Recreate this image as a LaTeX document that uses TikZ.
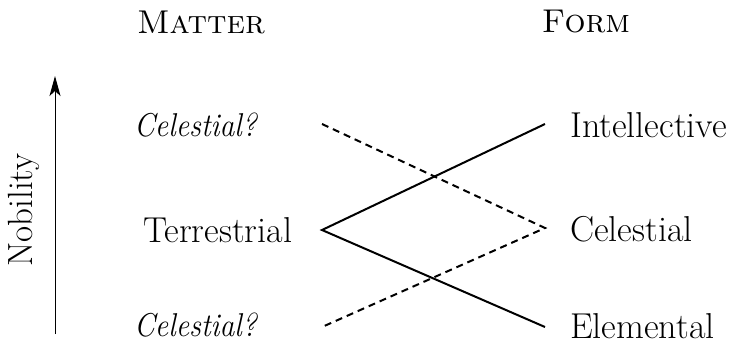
\documentclass[tikz,border=0pt]{standalone}
\usepackage{fontspec}
\usetikzlibrary{arrows.meta}
\begin{document}
\begin{tikzpicture}[x=1pt,y=-1pt,
  lbl/.style={anchor=west,inner sep=0pt,font=\fontsize{36}{42}\selectfont},
  qlbl/.style={anchor=west,inner sep=0pt,xscale=0.9,font=\fontsize{33}{38}\selectfont\itshape},
  head/.style={inner sep=0pt,font=\fontsize{33}{40}\selectfont\scshape},
  solidline/.style={line width=2pt},
  dashline/.style={line width=2pt,dash pattern=on 7pt off 5pt}]
\useasboundingbox (0,0) rectangle (735,346);
\node[head] (matter) at (201,22) {Matter};
\node[head] (form) at (586,22) {Form};
\node[qlbl] (cq1) at (134,125) {Celestial?};
\node[lbl] (terr) at (143,230) {Terrestrial};
\node[qlbl] (cq2) at (134,325) {Celestial?};
\node[lbl] (intel) at (570,125) {Intellective};
\node[lbl] (cel) at (570,229) {Celestial};
\node[lbl] (elem) at (570,326) {Elemental};
\coordinate (a0) at (55,334);
\coordinate (a1) at (55,76);
\draw[line width=1pt,-{Stealth[length=20pt,width=11pt,inset=5pt]}] (a0) -- (a1);
\node[rotate=90,inner sep=0pt,font=\fontsize{35}{40}\selectfont] (nob) at (24,210) {Nobility};
\coordinate (tR) at (322,230);
\coordinate (iL) at (545,124);
\coordinate (eL) at (545,327);
\coordinate (cL) at (545,228);
\coordinate (q1R) at (322,124);
\coordinate (q2R) at (322,327);
\draw[solidline] (iL) -- (tR) -- (eL);
\draw[dashline] (q1R) -- (cL) -- (q2R);
\end{tikzpicture}
\end{document}
